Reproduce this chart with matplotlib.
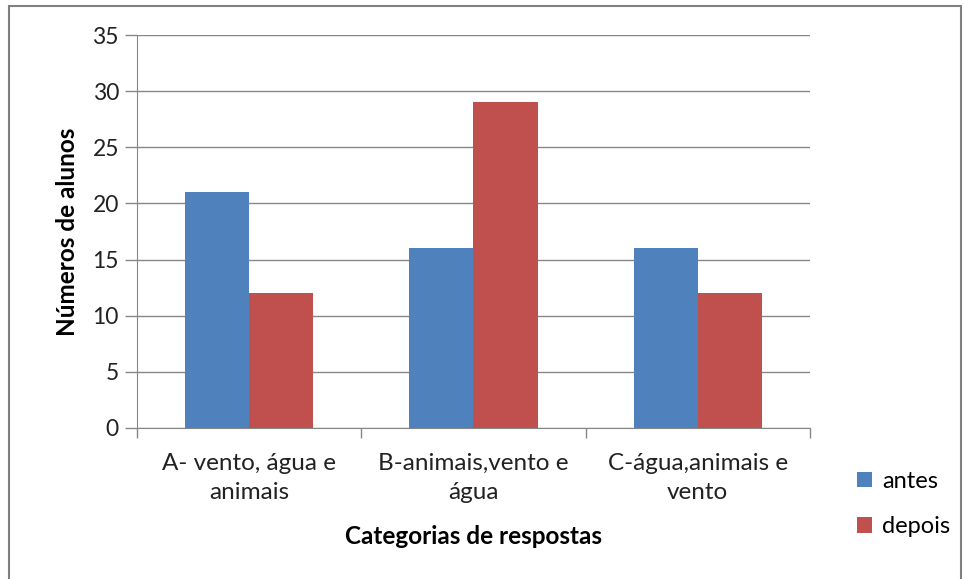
import matplotlib
matplotlib.use("Agg")
import matplotlib.pyplot as plt
import numpy as np
from matplotlib.patches import Rectangle

categories = ["A- vento, água e\nanimais", "B-animais,vento e\nágua", "C-água,animais e\nvento"]
antes = [21, 16, 16]
depois = [12, 29, 12]
series_names = ["antes", "depois"]
yticks = [0, 5, 10, 15, 20, 25, 30, 35]

plt.rcParams['font.family'] = ['Lato', 'DejaVu Sans']
blue = "#4f81bd"
red = "#c0504d"
grid = "#878787"

fig = plt.figure(figsize=(9.64, 5.79), dpi=100)
ax = fig.add_axes([137/964, 1-428/579, (810-137)/964, (428-35)/579])

x = np.arange(len(categories))
w = 0.2857
ax.bar(x - w/2, antes, width=w, color=blue, label=series_names[0], zorder=3)
ax.bar(x + w/2, depois, width=w, color=red, label=series_names[1], zorder=3)

ax.set_xlim(-0.5, len(categories) - 0.5)
ax.set_ylim(0, 35)
ax.set_yticks(yticks)
ax.set_yticklabels([str(v) for v in yticks], fontsize=16.5, color="#222222")
ax.yaxis.grid(True, color=grid, linewidth=1, zorder=0)
ax.set_axisbelow(True)

ax.set_xticks(x)
ax.set_xticklabels(categories, fontsize=17.5, color="#222222", linespacing=1.45)
ax.tick_params(axis='x', length=0, pad=18)
ax.set_xticks(np.arange(-0.5, len(categories)), minor=True)
ax.tick_params(axis='x', which='minor', length=7, color=grid, width=1)
ax.tick_params(axis='y', length=9, color=grid, width=1, pad=4)

for s in ['top', 'right']:
    ax.spines[s].set_visible(False)
ax.spines['left'].set_color(grid)
ax.spines['bottom'].set_color(grid)

ax.set_ylabel("Números de alunos", fontsize=17.5, fontweight='bold', labelpad=10)
ax.set_xlabel("Categorias de respostas", fontsize=17.5, fontweight='bold', labelpad=16)

fig.legend(loc='center left', bbox_to_anchor=(857/964, 1-504/579), frameon=False,
           fontsize=17, handlelength=0.62, handleheight=0.62, handletextpad=0.45,
           labelspacing=1.05, borderpad=0, borderaxespad=0)

fig.patches.append(Rectangle((9/964, -0.01), (961-9)/964, 1-6/579+0.01,
                             transform=fig.transFigure, fill=False,
                             edgecolor="#7f7f7f", linewidth=1.5))

fig.savefig("out.png", dpi=100)
